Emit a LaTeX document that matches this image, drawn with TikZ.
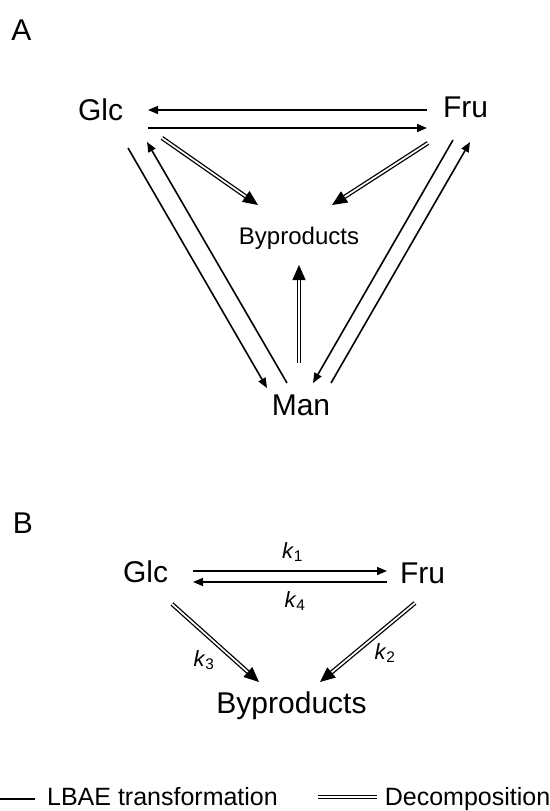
\documentclass[tikz,border=0pt]{standalone}
\usepackage{fontspec}
\setmainfont{Liberation Sans}
\usetikzlibrary{arrows.meta}
\begin{document}
\begin{tikzpicture}[x=1pt,y=-1pt,
  lbl/.style={inner sep=0pt,anchor=base,font=\fontsize{30}{36}\selectfont},
  smalllbl/.style={inner sep=0pt,anchor=base,font=\fontsize{24}{28}\selectfont},
  klbl/.style={inner sep=0pt,anchor=base,font=\fontsize{22}{26}\selectfont},
  leglbl/.style={inner sep=0pt,anchor=base,font=\fontsize{25}{30}\selectfont},
  lbae/.style={line width=1.6pt,-{Triangle[length=10pt,width=8pt]}},
  decomp/.style={line width=1.3pt,double,double distance=1.7pt,-{Triangle[length=15pt,width=13pt]}},
  plainline/.style={line width=1.6pt},
  dblline/.style={line width=1.3pt,double,double distance=1.7pt},
]
\useasboundingbox (0,0) rectangle (549,811);

% ---------- Panel A ----------
\node[lbl] (A) at (21.5,40) {A};
\node[lbl] (glcA) at (100.5,120) {Glc};
\node[lbl] (fruA) at (465.5,117) {Fru};
\node[lbl] (manA) at (301,415) {Man};
\node[smalllbl] (bypA) at (299,244) {Byproducts};

\coordinate (fgS) at (427,110); \coordinate (fgE) at (148,110);
\coordinate (gfS) at (148,128); \coordinate (gfE) at (427,128);
\coordinate (gmS) at (128,148); \coordinate (gmE) at (267,388);
\coordinate (mgS) at (287,383); \coordinate (mgE) at (147,142);
\coordinate (fmS) at (453,140); \coordinate (fmE) at (313,383);
\coordinate (mfS) at (331,383); \coordinate (mfE) at (470,142);
\coordinate (gbS) at (162,138); \coordinate (gbE) at (258,205);
\coordinate (fbS) at (428,143); \coordinate (fbE) at (332,205);
\coordinate (mbS) at (299,363); \coordinate (mbE) at (299,265);

\draw[lbae] (fgS) -- (fgE);
\draw[lbae] (gfS) -- (gfE);
\draw[lbae] (gmS) -- (gmE);
\draw[lbae] (mgS) -- (mgE);
\draw[lbae] (fmS) -- (fmE);
\draw[lbae] (mfS) -- (mfE);
\draw[decomp] (gbS) -- (gbE);
\draw[decomp] (fbS) -- (fbE);
\draw[decomp] (mbS) -- (mbE);

% ---------- Panel B ----------
\node[lbl] (B) at (23,533) {B};
\node[lbl] (glcB) at (145.5,582) {Glc};
\node[lbl] (fruB) at (422.5,583) {Fru};
\node[lbl] (bypB) at (291.5,713) {Byproducts};

\coordinate (k1S) at (193,571); \coordinate (k1E) at (387,571);
\coordinate (k4S) at (387,582); \coordinate (k4E) at (193,582);
\coordinate (k3S) at (172,604); \coordinate (k3E) at (259,682);
\coordinate (k2S) at (415,603); \coordinate (k2E) at (320,682);

\draw[lbae] (k1S) -- (k1E);
\draw[lbae] (k4S) -- (k4E);
\draw[decomp] (k3S) -- (k3E);
\draw[decomp] (k2S) -- (k2E);

\node[klbl] (k1) at (292.5,558) {\textit{k}\textsubscript{1}};
\node[klbl] (k4) at (295,607) {\textit{k}\textsubscript{4}};
\node[klbl] (k3) at (204,666) {\textit{k}\textsubscript{3}};
\node[klbl] (k2) at (385,659) {\textit{k}\textsubscript{2}};

% ---------- Legend ----------
\coordinate (l1S) at (0,799); \coordinate (l1E) at (35,799);
\coordinate (l2S) at (318,797); \coordinate (l2E) at (377,797);
\draw[plainline] (l1S) -- (l1E);
\node[leglbl] (legA) at (162.5,805) {LBAE transformation};
\draw[dblline] (l2S) -- (l2E);
\node[leglbl] (legB) at (467.5,805) {Decomposition};
\end{tikzpicture}
\end{document}
